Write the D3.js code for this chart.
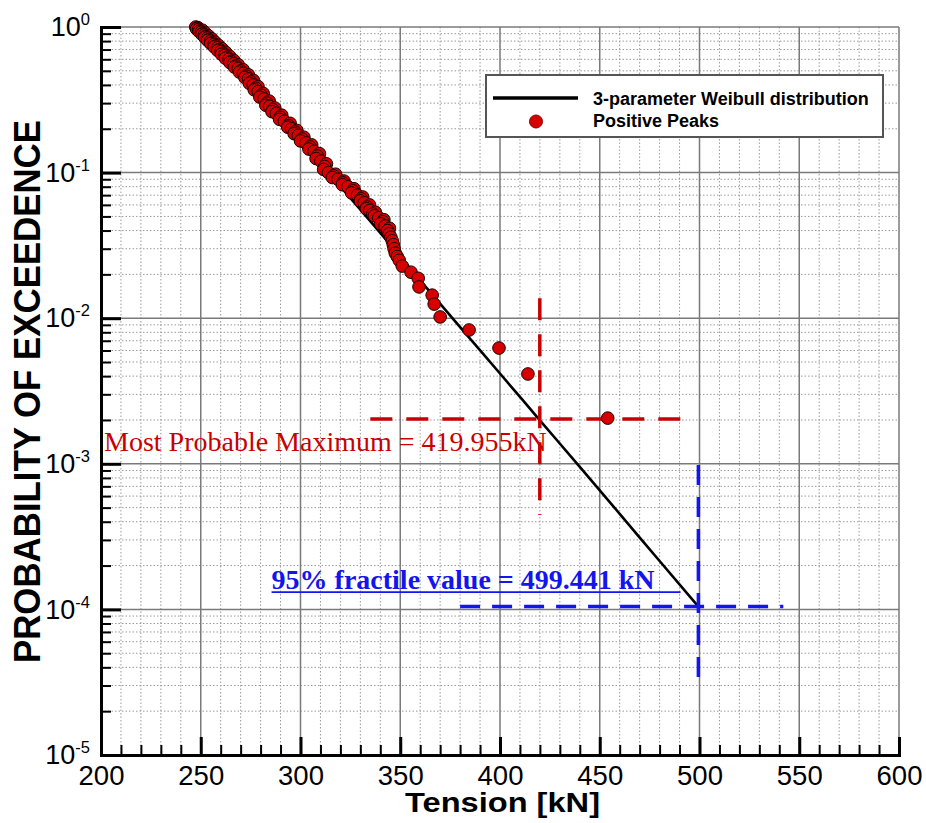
<!DOCTYPE html>
<html>
<head>
<meta charset="utf-8">
<script src="https://cdn.jsdelivr.net/npm/d3@7"></script>
<style>
  html, body { margin: 0; padding: 0; background: #fff; }
  svg { display: block; }
  text { font-family: "Liberation Sans", Arial, Helvetica, sans-serif; }
</style>
</head>
<body>
<svg id="chart" width="926" height="823"></svg>
<script>
// Positive peak tensions [kN] and their probability of exceedance
const peakTension = [
  247.5, 248.6, 248.2, 247.9, 248.9, 250.9, 249.6, 249.2, 250.3, 252.2,
  251.0, 250.6, 251.8, 253.8, 252.6, 252.0, 253.4, 255.5, 254.2, 253.4,
  255.0, 257.0, 255.8, 255.0, 256.7, 258.8, 257.5, 256.7, 258.4, 260.6,
  259.3, 258.5, 260.2, 262.5, 261.2, 260.4, 262.2, 264.5, 263.2, 262.4,
  264.2, 266.6, 265.3, 264.6, 266.5, 268.8, 267.6, 266.9, 268.8, 271.2,
  270.1, 269.4, 271.4, 273.9, 272.8, 272.1, 274.0, 276.4, 275.1, 274.4,
  276.3, 278.7, 277.5, 276.8, 278.8, 281.3, 280.2, 279.6, 281.7, 284.3,
  283.2, 282.6, 284.5, 287.1, 286.1, 285.7, 287.9, 290.6, 289.8, 289.5,
  291.9, 294.8, 294.0, 293.6, 295.6, 298.2, 297.2, 296.8, 298.9, 301.7,
  300.8, 300.0, 302.7, 305.6, 304.8, 304.2, 306.8, 309.5, 308.4, 307.8,
  310.2, 313.0, 312.1, 311.6, 314.0, 317.6, 316.5, 316.0, 318.8, 321.8,
  321.3, 321.0, 323.8, 326.8, 326.2, 325.6, 328.6, 331.2, 330.4, 330.0,
  331.9, 334.6, 333.4, 333.0, 334.7, 337.5, 336.2, 337.0, 339.2, 341.8,
  341.3, 340.2, 342.4, 344.6, 343.6, 344.4, 345.3, 346.0, 346.5, 346.9,
  347.5, 348.5, 349.5, 351.0, 355.4, 359.0, 359.4, 366.0, 367.0, 370.0,
  384.5, 399.5, 414.0, 454.0
];
const peakExceedance = [
  1.00, 0.99, 0.98, 0.97, 0.96, 0.95, 0.94, 0.93, 0.92, 0.91,
  0.90, 0.89, 0.88, 0.87, 0.86, 0.85, 0.84, 0.83, 0.82, 0.81,
  0.80, 0.79, 0.78, 0.77, 0.76, 0.75, 0.74, 0.73, 0.72, 0.71,
  0.70, 0.69, 0.68, 0.67, 0.66, 0.65, 0.64, 0.63, 0.62, 0.61,
  0.60, 0.59, 0.58, 0.57, 0.56, 0.55, 0.54, 0.53, 0.52, 0.51,
  0.50, 0.49, 0.48, 0.47, 0.46, 0.45, 0.44, 0.43, 0.42, 0.41,
  0.40, 0.39, 0.38, 0.37, 0.36, 0.35, 0.34, 0.33, 0.32, 0.31,
  0.30, 0.29, 0.285, 0.278, 0.27, 0.262, 0.255, 0.248, 0.24, 0.232,
  0.225, 0.218, 0.21, 0.205, 0.20, 0.195, 0.19, 0.185, 0.18, 0.175,
  0.17, 0.165, 0.16, 0.155, 0.15, 0.145, 0.14, 0.135, 0.13, 0.125,
  0.12, 0.115, 0.11, 0.105, 0.10, 0.0975, 0.095, 0.0925, 0.09, 0.0875,
  0.085, 0.0825, 0.08, 0.0775, 0.075, 0.0725, 0.07, 0.068, 0.066, 0.064,
  0.062, 0.060, 0.058, 0.0565, 0.055, 0.0535, 0.052, 0.0505, 0.049, 0.0475,
  0.046, 0.0445, 0.043, 0.0415, 0.040, 0.038, 0.036, 0.034, 0.032, 0.030,
  0.028, 0.0265, 0.025, 0.0228, 0.0207, 0.0188, 0.0164, 0.0144, 0.0125, 0.0102,
  0.0083, 0.00624, 0.00414, 0.00206
];

// Fitted 3-parameter Weibull exceedance curve
const weibullTension    = [247, 260, 280, 300, 320, 340, 360, 380, 400, 420, 440, 460, 480, 499.441];
const weibullExceedance = [0.985, 0.645, 0.325, 0.162, 0.080, 0.0385, 0.0182, 0.00868, 0.00417, 0.00199, 0.000952, 0.000453, 0.000215, 0.0001045];

// Design values
const mpmTension = 419.955;        // most probable maximum
const mpmExceedance = 0.00203;
const fractileTension = 499.441;   // 95% fractile
const fractileExceedance = 0.0001045;

// Axis ticks
const xMajorTicks = [200, 250, 300, 350, 400, 450, 500, 550, 600];
const yDecadeExponents = [0, -1, -2, -3, -4, -5];

const svg = d3.select("#chart");
const plot = { left: 101, top: 27, right: 899, bottom: 755 };

const x = d3.scaleLinear().domain([200, 600]).range([plot.left, plot.right]);
const y = d3.scaleLog().domain([1e-5, 1]).range([plot.bottom, plot.top]);

const xMinorTicks = d3.range(200, 601, 10).filter(v => v % 50 !== 0);
const yMajorTicks = yDecadeExponents.map(e => Math.pow(10, e));
const yMinorTicks = [];
yDecadeExponents.filter(e => e < 0).forEach(e => {
  for (let k = 2; k <= 9; k++) yMinorTicks.push(k * Math.pow(10, e));
});

// ---- grid ----
const grid = svg.append("g");
grid.selectAll("line.xminor").data(xMinorTicks).join("line")
  .attr("x1", d => x(d)).attr("x2", d => x(d))
  .attr("y1", plot.top).attr("y2", plot.bottom)
  .attr("stroke", "#9a9a9a").attr("stroke-width", 1).attr("stroke-dasharray", "1.5,2");
grid.selectAll("line.yminor").data(yMinorTicks).join("line")
  .attr("x1", plot.left).attr("x2", plot.right)
  .attr("y1", d => y(d)).attr("y2", d => y(d))
  .attr("stroke", "#9a9a9a").attr("stroke-width", 1).attr("stroke-dasharray", "1.5,2");
grid.selectAll("line.xmajor").data(xMajorTicks).join("line")
  .attr("x1", d => x(d)).attr("x2", d => x(d))
  .attr("y1", plot.top).attr("y2", plot.bottom)
  .attr("stroke", "#7a7a7a").attr("stroke-width", 1.5);
grid.selectAll("line.ymajor").data(yMajorTicks).join("line")
  .attr("x1", plot.left).attr("x2", plot.right)
  .attr("y1", d => y(d)).attr("y2", d => y(d))
  .attr("stroke", "#7a7a7a").attr("stroke-width", 1.5);

// ---- Weibull curve ----
const curve = weibullTension.map((t, i) => [t, weibullExceedance[i]]);
svg.append("path")
  .datum(curve)
  .attr("fill", "none")
  .attr("stroke", "#000")
  .attr("stroke-width", 2.6)
  .attr("d", d3.line().curve(d3.curveMonotoneX).x(d => x(d[0])).y(d => y(d[1])));

// ---- design value markers ----
const red = "#c80000", blue = "#1414f0";
const ann = svg.append("g");
// most probable maximum
ann.append("line")
  .attr("x1", x(335)).attr("x2", x(496))
  .attr("y1", y(mpmExceedance)).attr("y2", y(mpmExceedance))
  .attr("stroke", red).attr("stroke-width", 3.5).attr("stroke-dasharray", "22,14");
ann.append("line")
  .attr("x1", x(mpmTension)).attr("x2", x(mpmTension))
  .attr("y1", y(0.0137)).attr("y2", y(0.000445))
  .attr("stroke", red).attr("stroke-width", 3.5).attr("stroke-dasharray", "22,14");
ann.append("text")
  .attr("x", x(201.5)).attr("y", y(mpmExceedance) + 32)
  .attr("fill", red)
  .style("font-family", "'Liberation Serif', 'Times New Roman', serif")
  .style("font-size", "28px")
  .text("Most Probable Maximum = " + mpmTension + "kN");
// 95% fractile
ann.append("line")
  .attr("x1", x(380)).attr("x2", x(542))
  .attr("y1", y(fractileExceedance)).attr("y2", y(fractileExceedance))
  .attr("stroke", blue).attr("stroke-width", 3.5).attr("stroke-dasharray", "20,12");
ann.append("line")
  .attr("x1", x(fractileTension)).attr("x2", x(fractileTension))
  .attr("y1", y(0.00098)).attr("y2", y(0.0000303))
  .attr("stroke", blue).attr("stroke-width", 3.5).attr("stroke-dasharray", "20,12");
const fy = y(fractileExceedance) - 18;
ann.append("text")
  .attr("x", x(285.5)).attr("y", fy)
  .attr("fill", blue)
  .style("font-family", "'Liberation Serif', 'Times New Roman', serif")
  .style("font-size", "28px").style("font-weight", "bold")
  .text("95% fractile value = " + fractileTension + " kN");
ann.append("line")
  .attr("x1", x(285.5)).attr("x2", x(490.5))
  .attr("y1", fy + 3.5).attr("y2", fy + 3.5)
  .attr("stroke", blue).attr("stroke-width", 1.6);

// ---- peaks ----
const peaks = peakTension.map((t, i) => ({ t, p: peakExceedance[i] }));
svg.append("g").selectAll("circle").data(peaks).join("circle")
  .attr("cx", d => x(d.t)).attr("cy", d => y(d.p))
  .attr("r", 6.3)
  .attr("fill", "#d60000")
  .attr("stroke", "#1a0000").attr("stroke-width", 1);

// ---- axes ----
const axisStyle = g => {
  g.select(".domain").attr("stroke", "#000").attr("stroke-width", 3).attr("stroke-linecap", "square");
  g.selectAll(".tick line").attr("stroke", "#000");
};

// x minor ticks
svg.append("g").attr("transform", `translate(0,${plot.bottom})`)
  .call(d3.axisBottom(x).tickValues(xMinorTicks).tickSize(-10).tickSizeOuter(0).tickFormat(""))
  .call(g => { g.select(".domain").remove(); g.selectAll(".tick line").attr("stroke", "#000").attr("stroke-width", 2); });
// y minor ticks
svg.append("g").attr("transform", `translate(${plot.left},0)`)
  .call(d3.axisLeft(y).tickValues(yMinorTicks).tickSize(-10).tickSizeOuter(0).tickFormat(""))
  .call(g => { g.select(".domain").remove(); g.selectAll(".tick line").attr("stroke", "#000").attr("stroke-width", 2); });

// x major axis
svg.append("g").attr("transform", `translate(0,${plot.bottom})`)
  .call(d3.axisBottom(x).tickValues(xMajorTicks).tickSize(-18).tickSizeOuter(0).tickPadding(10).tickFormat(d3.format("d")))
  .call(axisStyle)
  .call(g => {
    g.selectAll(".tick line").attr("stroke-width", 3);
    g.selectAll(".tick text").attr("fill", "#000")
      .style("font-size", "27.5px").style("font-family", "'Liberation Sans', Arial, sans-serif");
  });

// y major axis with power-of-ten labels
svg.append("g").attr("transform", `translate(${plot.left},0)`)
  .call(d3.axisLeft(y).tickValues(yMajorTicks).tickSize(-20).tickSizeOuter(0).tickPadding(11).tickFormat(""))
  .call(axisStyle)
  .call(g => {
    g.selectAll(".tick line").attr("stroke-width", 3);
    g.selectAll(".tick text").each(function(d) {
      const t = d3.select(this)
        .attr("fill", "#000")
        .style("font-size", "27px").style("font-family", "'Liberation Sans', Arial, sans-serif");
      t.text(null);
      t.append("tspan").text("10");
      t.append("tspan").attr("dy", -11).style("font-size", "16.5px")
        .text(String(Math.round(Math.log10(d))));
    });
  });

// axis titles
svg.append("text")
  .attr("x", 502.5).attr("y", 812)
  .attr("text-anchor", "middle")
  .attr("textLength", 195).attr("lengthAdjust", "spacingAndGlyphs")
  .style("font-size", "27px").style("font-weight", "bold")
  .text("Tension [kN]");
svg.append("text")
  .attr("transform", "translate(40,391.5) rotate(-90)")
  .attr("text-anchor", "middle")
  .attr("textLength", 543).attr("lengthAdjust", "spacingAndGlyphs")
  .style("font-size", "36px").style("font-weight", "bold")
  .text("PROBABILITY OF EXCEEDENCE");

// ---- legend ----
const legend = svg.append("g");
legend.append("rect")
  .attr("x", 486).attr("y", 75).attr("width", 397).attr("height", 62)
  .attr("fill", "#fff").attr("stroke", "#555").attr("stroke-width", 2);
legend.append("line")
  .attr("x1", 493).attr("x2", 578).attr("y1", 98).attr("y2", 98)
  .attr("stroke", "#000").attr("stroke-width", 3.5);
legend.append("circle")
  .attr("cx", 536).attr("cy", 121.5).attr("r", 6.5)
  .attr("fill", "#d60000").attr("stroke", "#8a0000").attr("stroke-width", 1);
legend.append("text").attr("x", 593).attr("y", 105)
  .style("font-size", "18px").style("font-weight", "bold")
  .text("3-parameter Weibull distribution");
legend.append("text").attr("x", 593).attr("y", 127)
  .style("font-size", "18px").style("font-weight", "bold")
  .text("Positive Peaks");
</script>
</body>
</html>
